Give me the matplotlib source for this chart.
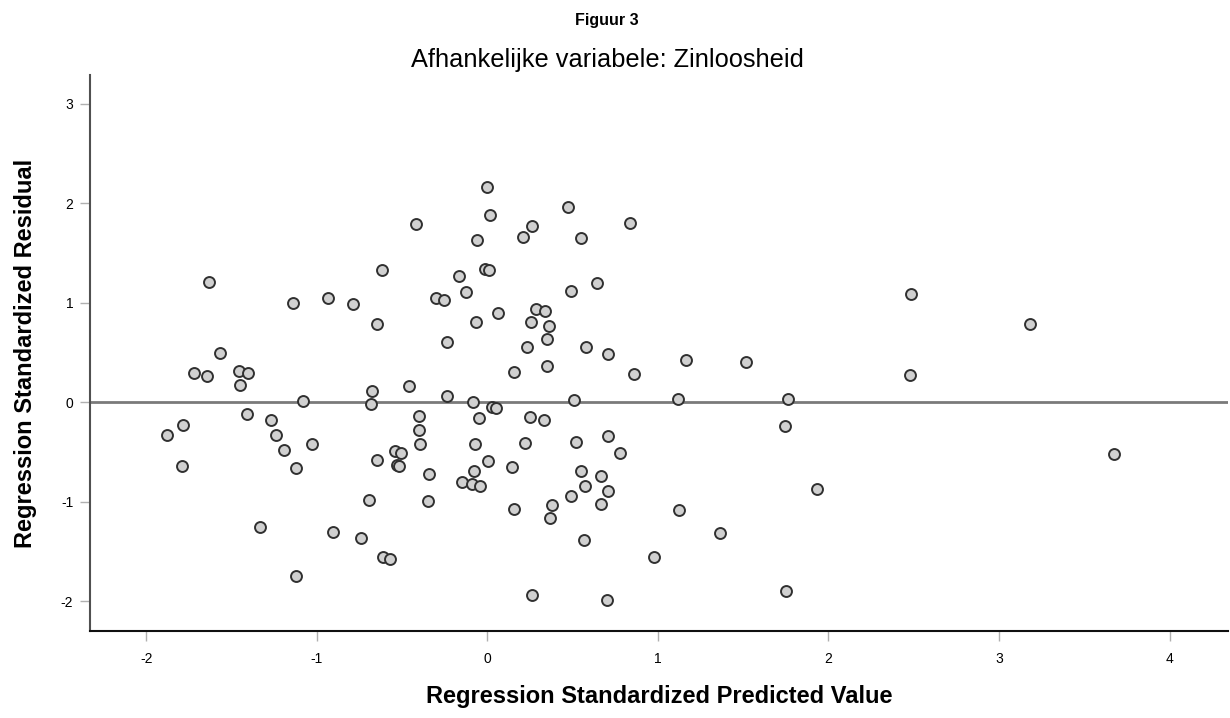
import matplotlib
matplotlib.use('Agg')
import matplotlib.pyplot as plt

plt.rcParams['font.family'] = ['Liberation Sans', 'DejaVu Sans']

# standardized predicted value (x) and standardized residual (y)
pred = [-1.63, -1.14, -0.936, -0.79, -0.617, -0.649, -1.565, -1.72, -1.645, -1.454,
        -1.405, -1.45, -1.083, -0.678, -0.68, -1.408, -1.27, -1.786, -1.876, -1.24,
        -1.194, -1.03, -1.124, -1.79, -0.645, -0.696, -1.332, -0.905, -0.744, -0.615,
        -1.124,
        -0.004, 0.473, 0.018, -0.418, 0.836, 0.262, 0.207, 0.551, -0.06, -0.012,
        0.008, -0.164, 0.492, 0.641, -0.125, -0.30, -0.254, 0.06, 0.285, 0.338,
        -0.064, 0.256, 0.359, -0.234, 0.348, 0.23, 0.576,
        0.709, 0.154, 0.35, 0.862, -0.461, -0.239, -0.084, 0.027, 0.053, 0.508,
        1.118, -0.40, -0.40, -0.397, -0.047, 0.248, 0.332, -0.54, -0.504, -0.53,
        -0.52, -0.344, -0.35, -0.07, 0.004, -0.076, -0.147, -0.09, -0.045, 0.147,
        0.223, 0.52, 0.709, 0.78, 0.551, 0.666, 0.573, 0.709, 0.488, 0.668,
        0.379, 0.154, 0.369, 1.125, 0.569, -0.57, 0.977, 0.262, 0.70,
        1.167, 1.517, 2.48, 1.76, 1.745, 3.675, 1.931, 1.364, 1.753, 2.486, 3.18]
resid = [1.21, 1.00, 1.05, 0.99, 1.33, 0.79, 0.50, 0.29, 0.26, 0.31,
         0.29, 0.17, 0.01, 0.11, -0.02, -0.12, -0.18, -0.23, -0.33, -0.33,
         -0.485, -0.42, -0.66, -0.64, -0.58, -0.98, -1.255, -1.30, -1.37, -1.56,
         -1.75,
         2.16, 1.96, 1.88, 1.79, 1.80, 1.77, 1.66, 1.65, 1.63, 1.335,
         1.33, 1.27, 1.12, 1.20, 1.11, 1.05, 1.03, 0.90, 0.94, 0.92,
         0.81, 0.81, 0.77, 0.61, 0.64, 0.555, 0.555,
         0.48, 0.30, 0.36, 0.28, 0.16, 0.06, 0.00, -0.05, -0.06, 0.02,
         0.03, -0.14, -0.28, -0.42, -0.16, -0.15, -0.18, -0.49, -0.51, -0.63,
         -0.64, -0.72, -0.99, -0.42, -0.59, -0.69, -0.80, -0.82, -0.84, -0.65,
         -0.41, -0.40, -0.34, -0.51, -0.69, -0.74, -0.84, -0.89, -0.94, -1.02,
         -1.03, -1.07, -1.16, -1.08, -1.39, -1.58, -1.56, -1.94, -1.99,
         0.42, 0.405, 0.27, 0.03, -0.24, -0.525, -0.87, -1.315, -1.90, 1.09, 0.79]

xticks = [-2, -1, 0, 1, 2, 3, 4]
yticks = [-2, -1, 0, 1, 2, 3]

fig = plt.figure(figsize=(12.3, 7.18), dpi=100)
ax = fig.add_axes([0.0732, 0.1212, 0.9248, 0.7743])

ax.axhline(0, color='#7a7a7a', linewidth=2, zorder=1)
ax.scatter(pred, resid, s=62, facecolor='#d0d0d0', edgecolor='#303030',
           linewidths=1.4, zorder=3)

ax.set_xlim(-2.33, 4.34)
ax.set_ylim(-2.30, 3.29)
ax.set_xticks(xticks)
ax.set_yticks(yticks)
ax.set_xticklabels([str(t) for t in xticks])
ax.set_yticklabels([str(t) for t in yticks])
ax.tick_params(length=7, width=1, color='#b0b0b0', labelsize=10)
ax.tick_params(axis='x', pad=8)
ax.tick_params(axis='y', pad=5)

ax.spines['top'].set_visible(False)
ax.spines['right'].set_visible(False)
ax.spines['left'].set_color('#505050')
ax.spines['left'].set_linewidth(1.5)
ax.spines['bottom'].set_color('#101010')
ax.spines['bottom'].set_linewidth(1.5)

ax.set_xlabel('Regression Standardized Predicted Value', fontsize=17,
              fontweight='bold', labelpad=14)
ax.set_ylabel('Regression Standardized Residual', fontsize=17,
              fontweight='bold', labelpad=17)
fig.text(607 / 1230, 0.9067, 'Afhankelijke variabele: Zinloosheid',
         ha='center', va='baseline', fontsize=18.3)
fig.text(607 / 1230, 0.965, 'Figuur 3', ha='center', va='baseline',
         fontsize=11.5, fontweight='bold')

fig.savefig('out.png', dpi=100)
